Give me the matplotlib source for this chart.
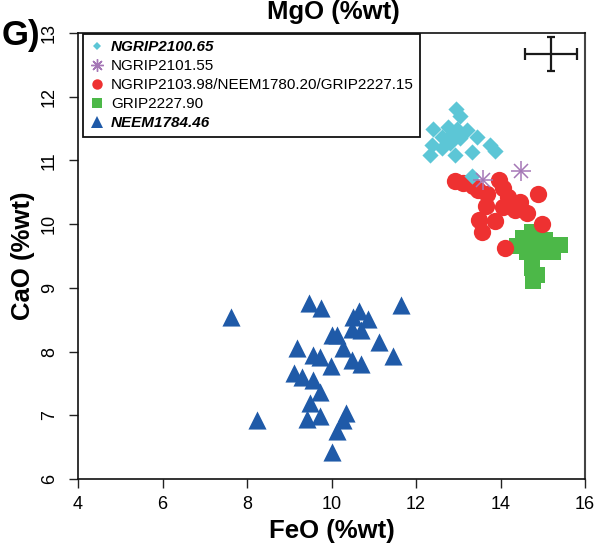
import matplotlib
matplotlib.use("Agg")
import matplotlib.pyplot as plt
from matplotlib.lines import Line2D

plt.rcParams["font.family"] = ["Liberation Sans", "DejaVu Sans"]

# FeO vs CaO (wt%) per tephra sample
ngrip2100_feo = [12.94, 13.04, 12.40, 12.76, 12.96, 13.20, 13.45, 12.61, 13.04, 12.80,
                 12.37, 12.61, 13.75, 13.87, 13.32, 12.92, 12.33, 13.33, 12.88]
ngrip2100_cao = [11.81, 11.69, 11.50, 11.52, 11.50, 11.48, 11.37, 11.37, 11.35, 11.27,
                 11.24, 11.19, 11.24, 11.15, 11.13, 11.08, 11.08, 10.76, 11.43]

ngrip2101_feo = [14.48, 13.59]
ngrip2101_cao = [10.83, 10.69]

combined_feo = [12.92, 13.11, 13.47, 13.97, 14.07, 13.67, 14.89, 14.18, 14.46, 13.66,
                14.07, 14.34, 14.62, 13.50, 13.87, 14.98, 13.56, 14.11, 13.35]
combined_cao = [10.68, 10.64, 10.54, 10.70, 10.56, 10.48, 10.48, 10.43, 10.35, 10.28,
                10.27, 10.22, 10.17, 10.06, 10.05, 10.00, 9.87, 9.63, 10.60]

grip2227_feo = [14.74, 14.54, 14.38, 14.78, 14.93, 15.41, 15.25, 14.74, 14.86, 14.78,
                15.05, 14.63]
grip2227_cao = [9.88, 9.78, 9.65, 9.67, 9.57, 9.67, 9.57, 9.31, 9.20, 9.10,
                9.75, 9.56]

neem1784_feo = [7.62, 8.23, 9.47, 9.74, 10.66, 10.52, 10.87, 10.48, 10.71, 11.64,
                10.00, 10.14, 11.13, 10.28, 9.19, 9.57, 9.73, 10.48, 10.71, 11.45,
                9.98, 9.12, 9.29, 9.56, 9.73, 9.49, 9.41, 9.73, 10.34, 10.28,
                10.14, 10.02]
neem1784_cao = [8.54, 6.92, 8.77, 8.69, 8.64, 8.55, 8.51, 8.36, 8.34, 8.73,
                8.26, 8.26, 8.15, 8.05, 8.06, 7.95, 7.91, 7.87, 7.80, 7.93,
                7.77, 7.67, 7.60, 7.56, 7.37, 7.19, 6.94, 6.99, 7.04, 6.92,
                6.76, 6.43]

# typical analytical uncertainty (2 sd), drawn as a cross
err_feo, err_cao = 15.19, 12.67
err_dx, err_dy = 0.61, 0.26

xticks = [4, 6, 8, 10, 12, 14, 16]
yticks = [6, 7, 8, 9, 10, 11, 12, 13]

CYAN = "#5cc6d6"
PURPLE = "#a577b6"
RED = "#ee3131"
GREEN = "#4cb848"
BLUE = "#1f5aa8"


def main():
    fig = plt.figure(figsize=(6.05, 5.51), dpi=100)
    ax = fig.add_axes([78 / 605, 1 - 479 / 551, 507 / 605, 446 / 551])

    ax.scatter(neem1784_feo, neem1784_cao, marker="^", s=170, color=BLUE, lw=0, zorder=3)
    ax.scatter(grip2227_feo, grip2227_cao, marker="s", s=120, color=GREEN, lw=0, zorder=3)
    ax.scatter(combined_feo, combined_cao, marker="o", s=155, color=RED, lw=0, zorder=3)
    ax.scatter(ngrip2100_feo, ngrip2100_cao, marker="D", s=68, color=CYAN, lw=0, zorder=3)
    # pch 8 style asterisk: plus + cross on top of each other
    ax.plot(ngrip2101_feo, ngrip2101_cao, ls="none", marker="+", ms=14, mew=1.1,
            color=PURPLE, zorder=4)
    ax.plot(ngrip2101_feo, ngrip2101_cao, ls="none", marker="x", ms=10, mew=1.1,
            color=PURPLE, zorder=4)

    ax.errorbar([err_feo], [err_cao], xerr=[err_dx], fmt="none", ecolor="#1a1a1a",
                elinewidth=1.6, capsize=4.3, capthick=1.6)
    ax.errorbar([err_feo], [err_cao], yerr=[err_dy], fmt="none", ecolor="#1a1a1a",
                elinewidth=1.6, capsize=2.6, capthick=1.6)

    ax.set_xlim(4, 16)
    ax.set_ylim(6, 13)
    ax.set_xticks(xticks)
    ax.set_yticks(yticks)
    ax.tick_params(axis="both", direction="out", length=6.5, width=1.0,
                   labelsize=13, color="#222222")
    ax.tick_params(axis="x", pad=6)
    ax.tick_params(axis="y", pad=8)
    for lab in ax.get_yticklabels():
        lab.set_rotation(90)
        lab.set_va("center")

    for side in ("left", "bottom", "top"):
        ax.spines[side].set_linewidth(1.2)
        ax.spines[side].set_color("#111111")
    ax.spines["right"].set_linewidth(1.5)
    ax.spines["right"].set_color("#444444")

    ax.set_xlabel("FeO (%wt)", fontsize=18.5, fontweight="bold", labelpad=4)
    ax.set_ylabel("CaO (%wt)", fontsize=18.5, fontweight="bold", labelpad=4)

    handles = [
        Line2D([], [], ls="none", marker="D", ms=4.5, mew=0, color=CYAN),
        Line2D([], [], ls="none", marker=(8, 2, 0), ms=9, mew=1.0, color=PURPLE),
        Line2D([], [], ls="none", marker="o", ms=7.5, mew=0, color=RED),
        Line2D([], [], ls="none", marker="s", ms=7, mew=0, color=GREEN),
        Line2D([], [], ls="none", marker="^", ms=8, mew=0, color=BLUE),
    ]
    labels = ["NGRIP2100.65", "NGRIP2101.55",
              "NGRIP2103.98/NEEM1780.20/GRIP2227.15", "GRIP2227.90", "NEEM1784.46"]
    leg = ax.legend(handles, labels, loc="upper left", bbox_to_anchor=(0.0099, 0.998),
                    borderaxespad=0, fontsize=11.0, frameon=True, fancybox=False,
                    edgecolor="#111111", framealpha=1, handlelength=1.0,
                    handletextpad=0.4, borderpad=0.42, labelspacing=0.33)
    leg.get_frame().set_linewidth(1.3)
    for i in (0, 4):
        leg.get_texts()[i].set_fontweight("bold")
        leg.get_texts()[i].set_fontstyle("italic")

    fig.text(333 / 605, 1 - 19.5 / 551, "MgO (%wt)", fontsize=18.5, fontweight="bold",
             ha="center", va="baseline")
    fig.text(0.003, 1 - 45 / 551, "G)", fontsize=25, fontweight="bold",
             ha="left", va="baseline")

    fig.savefig("out.png", dpi=100)


if __name__ == "__main__":
    main()
